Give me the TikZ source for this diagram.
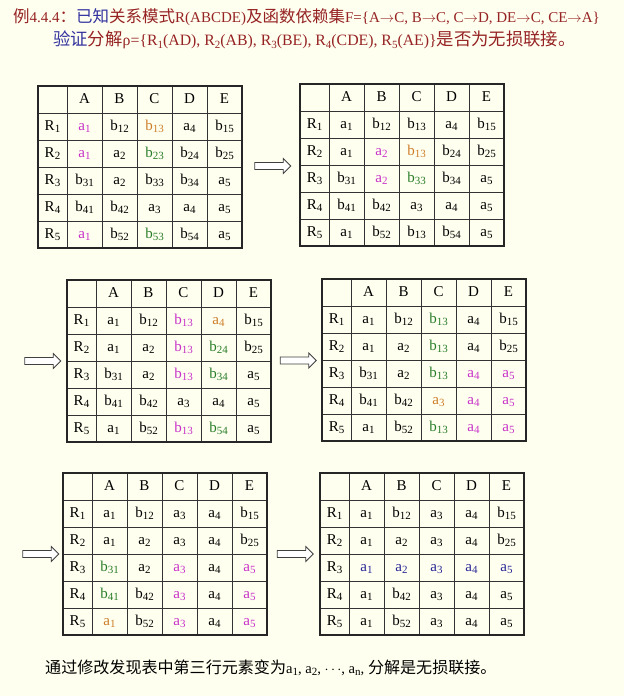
\documentclass[tikz,border=0pt]{standalone}
\usepackage{fontspec}
\setmainfont{Liberation Serif}
\newfontfamily\cjk[Scale=1.1]{Noto Sans CJK SC}
\usepackage{xcolor}
\usetikzlibrary{calc, positioning, shapes.arrows}

\definecolor{paper}{RGB}{255,255,240}
\definecolor{tred}{RGB}{150,35,35}
\definecolor{tblue}{RGB}{50,50,160}
\definecolor{cmag}{RGB}{200,50,200}
\definecolor{corg}{RGB}{205,125,40}
\definecolor{cgrn}{RGB}{40,125,40}
\definecolor{cblu}{RGB}{40,40,150}

\newcommand{\sbs}[1]{\raisebox{-0.35ex}{\fontsize{11}{11}\selectfont #1}}
\newcommand{\av}[1]{a\sbs{#1}}
\newcommand{\bv}[1]{b\sbs{#1}}
\newcommand{\mg}[1]{\textcolor{cmag}{#1}}
\newcommand{\og}[1]{\textcolor{corg}{#1}}
\newcommand{\gn}[1]{\textcolor{cgrn}{#1}}
\newcommand{\bl}[1]{\textcolor{cblu}{#1}}

\newcommand{\reltab}[3]{%
  \begin{scope}[shift={#2}]
    \node[cell, minimum width=29pt] (#1-0-0) at (14.5, 13.5) {};
    \foreach \col [count=\j] in {A, B, C, D, E}
      \node[cell] (#1-0-\j) at (11.5+35*\j, 13.5) {\col};
    \foreach \cells [count=\i] in {#3} {
      \node[cell, minimum width=29pt] (#1-\i-0) at (14.5, 13.5+27*\i) {R\sbs{\i}};
      \foreach \val [count=\j] in \cells
        \node[cell] (#1-\i-\j) at (11.5+35*\j, 13.5+27*\i) {\val};
    }
    \draw[frame] (#1-0-0.north west) rectangle (#1-5-5.south east);
  \end{scope}}

\begin{document}
\begin{tikzpicture}[x=1pt, y=-1pt,
    cell/.style={draw=black!80, line width=0.9pt, minimum width=35pt, minimum height=27pt,
      inner sep=0pt, outer sep=0pt, text height=10pt, text depth=3pt,
      font=\fontsize{15}{15}\selectfont},
    frame/.style={draw=black!85, line width=1.4pt},
    bigarrow/.style={single arrow, draw=black!75, fill=white, line width=0.8pt,
      minimum height=36pt, minimum width=15pt, single arrow head extend=4pt, inner sep=3pt},
    headline/.style={anchor=west, inner sep=0pt, font=\fontsize{15}{15}\selectfont}]

  \fill[paper] (0,0) rectangle (624,696);

  \node[headline, text=tred] (title1) at (13,17)
    {{\cjk 例}4.4.4{\cjk ：}\textcolor{tblue}{\cjk 已知}{\cjk 关系模式}R(ABCDE){\cjk 及函数依赖集}F=\{A$\to$C, B$\to$C, C$\to$D, DE$\to$C, CE$\to$A\}};
  \node[headline, text=tred, font=\fontsize{15.8}{16}\selectfont] (title2) at (53,40)
    {\textcolor{tblue}{\cjk 验证}{\cjk 分解}ρ=\{R\sbs{1}(AD), R\sbs{2}(AB), R\sbs{3}(BE), R\sbs{4}(CDE), R\sbs{5}(AE)\}{\cjk 是否为无损联接。}};

  \reltab{t1}{(38,86)}{
    {\mg{\av1}, \bv{12}, \og{\bv{13}}, \av4, \bv{15}},
    {\mg{\av1}, \av2, \gn{\bv{23}}, \bv{24}, \bv{25}},
    {\bv{31}, \av2, \bv{33}, \bv{34}, \av5},
    {\bv{41}, \bv{42}, \av3, \av4, \av5},
    {\mg{\av1}, \bv{52}, \gn{\bv{53}}, \bv{54}, \av5}}

  \reltab{t2}{(300,84)}{
    {\av1, \bv{12}, \bv{13}, \av4, \bv{15}},
    {\av1, \mg{\av2}, \og{\bv{13}}, \bv{24}, \bv{25}},
    {\bv{31}, \mg{\av2}, \gn{\bv{33}}, \bv{34}, \av5},
    {\bv{41}, \bv{42}, \av3, \av4, \av5},
    {\av1, \bv{52}, \bv{13}, \bv{54}, \av5}}

  \reltab{t3}{(67,280)}{
    {\av1, \bv{12}, \mg{\bv{13}}, \og{\av4}, \bv{15}},
    {\av1, \av2, \mg{\bv{13}}, \gn{\bv{24}}, \bv{25}},
    {\bv{31}, \av2, \mg{\bv{13}}, \gn{\bv{34}}, \av5},
    {\bv{41}, \bv{42}, \av3, \av4, \av5},
    {\av1, \bv{52}, \mg{\bv{13}}, \gn{\bv{54}}, \av5}}

  \reltab{t4}{(322,279)}{
    {\av1, \bv{12}, \gn{\bv{13}}, \av4, \bv{15}},
    {\av1, \av2, \gn{\bv{13}}, \av4, \bv{25}},
    {\bv{31}, \av2, \gn{\bv{13}}, \mg{\av4}, \mg{\av5}},
    {\bv{41}, \bv{42}, \og{\av3}, \mg{\av4}, \mg{\av5}},
    {\av1, \bv{52}, \gn{\bv{13}}, \mg{\av4}, \mg{\av5}}}

  \reltab{t5}{(63,473)}{
    {\av1, \bv{12}, \av3, \av4, \bv{15}},
    {\av1, \av2, \av3, \av4, \bv{25}},
    {\gn{\bv{31}}, \av2, \mg{\av3}, \av4, \mg{\av5}},
    {\gn{\bv{41}}, \bv{42}, \mg{\av3}, \av4, \mg{\av5}},
    {\og{\av1}, \bv{52}, \mg{\av3}, \av4, \mg{\av5}}}

  \reltab{t6}{(320,473)}{
    {\av1, \bv{12}, \av3, \av4, \bv{15}},
    {\av1, \av2, \av3, \av4, \bv{25}},
    {\bl{\av1}, \bl{\av2}, \bl{\av3}, \bl{\av4}, \bl{\av5}},
    {\av1, \bv{42}, \av3, \av4, \av5},
    {\av1, \bv{52}, \av3, \av4, \av5}}

  \node[bigarrow] (ar1) at ($(t1-2-5.south east)!0.5!(t2-2-0.south west)$) {};
  \node[bigarrow] (ar2) at ($(t3-2-0.south west)+(-26,0)$) {};
  \node[bigarrow] (ar3) at ($(t3-2-5.south east)!0.5!(t4-2-0.south west)$) {};
  \node[bigarrow] (ar4) at ($(t5-2-0.south west)+(-24,0)$) {};
  \node[bigarrow] (ar5) at ($(t5-2-5.south east)!0.5!(t6-2-0.south west)$) {};

  \node[headline, font=\fontsize{14.6}{15}\selectfont] (note) at (45,668)
    {{\cjk 通过修改发现表中第三行元素变为}a\sbs{1}, a\sbs{2}, $\cdots$, a\sbs{n}, {\cjk 分解是无损联接。}};
\end{tikzpicture}
\end{document}
